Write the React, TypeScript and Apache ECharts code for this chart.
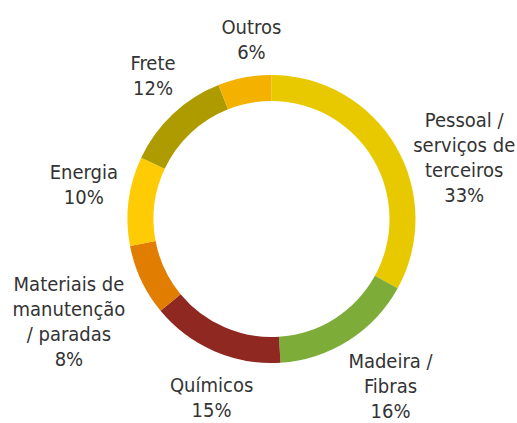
import React, { useEffect, useRef } from "react";
import * as echarts from "echarts";

const categories = [
  "Pessoal /\nserviços de\nterceiros",
  "Madeira /\nFibras",
  "Químicos",
  "Materiais de\nmanutenção\n/ paradas",
  "Energia",
  "Frete",
  "Outros",
];
const values = [33, 16, 15, 8, 10, 12, 6];
const colors = ["#E8C900", "#7DAD38", "#8E2821", "#E17D00", "#FFCB05", "#AD9B00", "#F5B100"];
// manual label nudges (px), like dragged labels in the source
const labelNudge: [number, number][] = [
  [18, 41],
  [15, 7],
  [17, 16],
  [-14, 16],
  [-3, -12],
  [1, -14],
  [14, -6],
];

const CX = 271.5;
const CY = 219;
const R_IN = 118;
const R_OUT = 144;
const GAP = 8;

export default function App() {
  const ref = useRef<HTMLDivElement>(null);
  useEffect(() => {
    if (!ref.current) return;
    const chart = echarts.init(ref.current, null, { renderer: "svg" });
    const total = values.reduce((a, b) => a + b, 0);
    const mids: number[] = [];
    let cum = 0;
    values.forEach((v) => {
      mids.push(((cum + v / 2) / total) * Math.PI * 2);
      cum += v;
    });
    chart.setOption({
      animation: false,
      series: [
        {
          type: "pie",
          center: [CX, CY],
          radius: [R_IN, R_OUT],
          startAngle: 90,
          clockwise: true,
          avoidLabelOverlap: false,
          itemStyle: { borderWidth: 0 },
          label: {
            show: true,
            position: "outside",
            formatter: (p: any) => `${p.name}\n${p.value}%`,
            fontFamily: "'DejaVu Sans Condensed', 'DejaVu Sans', sans-serif",
            fontSize: 20,
            lineHeight: 25,
            color: "#333333",
            align: "center",
          },
          labelLine: { show: false },
          emphasis: { disabled: true },
          labelLayout: (params: any) => {
            const i = params.dataIndex;
            const a = mids[i];
            const dx = Math.sin(a);
            const dy = -Math.cos(a);
            const w = params.labelRect.width;
            const h = params.labelRect.height;
            const r = R_OUT + GAP;
            return {
              x: CX + r * dx + (dx * w) / 2 + labelNudge[i][0],
              y: CY + r * dy + (dy * h) / 2 + labelNudge[i][1],
              align: "center",
              verticalAlign: "middle",
            };
          },
          data: categories.map((name, i) => ({
            name,
            value: values[i],
            itemStyle: { color: colors[i] },
          })),
        },
      ],
    });
    return () => chart.dispose();
  }, []);
  return (
    <div
      ref={ref}
      style={{ position: "absolute", left: 0, top: 0, width: 517, height: 423, background: "#ffffff" }}
    />
  );
}
